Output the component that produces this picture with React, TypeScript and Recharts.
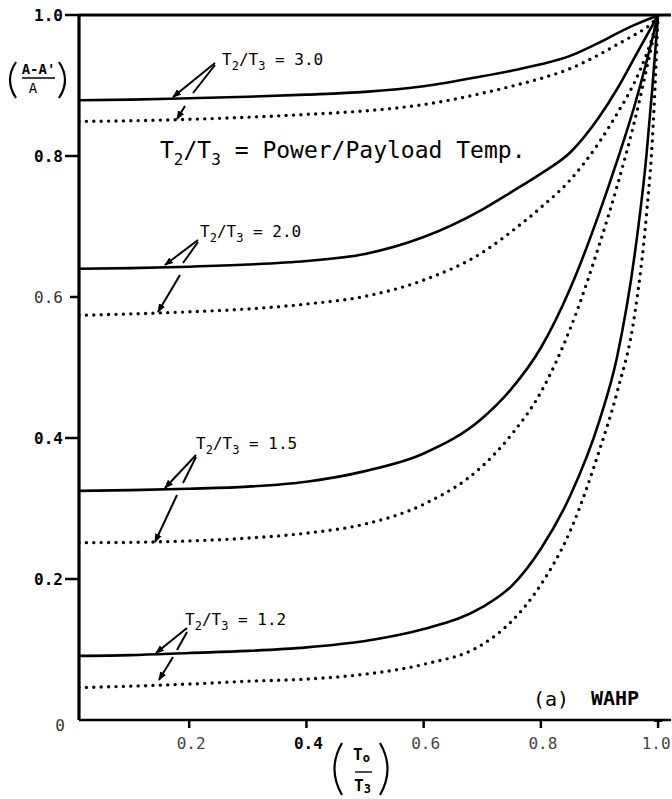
import React from 'react';
import { LineChart, Line, XAxis, YAxis, ReferenceLine } from 'recharts';

const xGrid = [0.012, 0.1, 0.2, 0.3, 0.4, 0.5, 0.6, 0.7, 0.75, 0.8, 0.85, 0.9, 0.93, 0.96, 0.98, 0.99, 1.0];

const r30Solid = [0.879, 0.880, 0.882, 0.884, 0.887, 0.891, 0.899, 0.913, 0.921, 0.930, 0.942, 0.961, 0.974, 0.986, 0.993, 0.996, 1.0];
const r30Dotted = [0.849, 0.850, 0.852, 0.855, 0.859, 0.864, 0.873, 0.889, 0.899, 0.910, 0.924, 0.944, 0.958, 0.972, 0.982, 0.989, 1.0];
const r20Solid = [0.640, 0.641, 0.643, 0.646, 0.651, 0.661, 0.685, 0.724, 0.749, 0.775, 0.805, 0.856, 0.895, 0.940, 0.970, 0.985, 1.0];
const r20Dotted = [0.574, 0.576, 0.579, 0.583, 0.590, 0.601, 0.624, 0.663, 0.693, 0.727, 0.766, 0.820, 0.860, 0.905, 0.944, 0.968, 1.0];
const r15Solid = [0.325, 0.326, 0.328, 0.331, 0.338, 0.353, 0.378, 0.428, 0.470, 0.528, 0.612, 0.720, 0.793, 0.872, 0.933, 0.966, 1.0];
const r15Dotted = [0.2515, 0.252, 0.254, 0.258, 0.265, 0.278, 0.306, 0.360, 0.405, 0.465, 0.555, 0.675, 0.757, 0.850, 0.922, 0.960, 1.0];
const r12Solid = [0.091, 0.092, 0.095, 0.098, 0.103, 0.112, 0.129, 0.160, 0.190, 0.243, 0.318, 0.425, 0.515, 0.660, 0.800, 0.895, 1.0];
const r12Dotted = [0.046, 0.048, 0.051, 0.055, 0.058, 0.065, 0.079, 0.107, 0.140, 0.192, 0.268, 0.383, 0.465, 0.575, 0.715, 0.820, 1.0];

const xTicks = [0.2, 0.4, 0.6, 0.8, 1.0];
const yTicks = [0, 0.2, 0.4, 0.6, 0.8, 1.0];
const xTickLabels = ['0.2', '0.4', '0.6', '0.8', '1.0'];
const yTickLabels = ['0', '0.2', '0.4', '0.6', '0.8', '1.0'];
const xBoldTicks = [0.4];
const yLightTicks = [0, 0.6];

const curveLabels = ['3.0', '2.0', '1.5', '1.2'];

const mk = (ys: number[]) => xGrid.map((x, i) => ({ x, y: ys[i] }));

const solidSeries = [r30Solid, r20Solid, r15Solid, r12Solid];
const dottedSeries = [r30Dotted, r20Dotted, r15Dotted, r12Dotted];

const FONT = "'DejaVu Sans Mono', monospace";

const YTick = (props: any) => {
  const { x, y, payload } = props;
  const v = payload.value;
  const idx = yTicks.indexOf(v);
  const light = yLightTicks.includes(v);
  if (v === 0) {
    return (
      <text x={x + 3} y={y + 11} textAnchor="end" fontFamily={FONT} fontSize={16} fill="#333">
        {yTickLabels[idx]}
      </text>
    );
  }
  return (
    <g>
      <line x1={x + (light ? 8 : 3)} x2={x + 17} y1={y} y2={y} stroke="#000" strokeWidth={2.5} />
      <text x={x + 1} y={y + 6} textAnchor="end" fontFamily={FONT} fontSize={16}
        fontWeight={light ? 'normal' : 'bold'} fill={light ? '#333' : '#000'}>
        {yTickLabels[idx]}
      </text>
    </g>
  );
};

const XTick = (props: any) => {
  const { x, y, payload } = props;
  const v = payload.value;
  const idx = xTicks.indexOf(v);
  const bold = xBoldTicks.includes(v);
  const dx = v === 1.0 ? -2 : 2;
  return (
    <g>
      <line x1={x} x2={x} y1={y - 10} y2={y - 2} stroke="#000" strokeWidth={2.5} />
      {v === 1.0 && <line x1={x - 4} x2={x + 4} y1={y - 9} y2={y - 9} stroke="#000" strokeWidth={2} />}
      <text x={x + dx} y={y + 19} textAnchor="middle" fontFamily={FONT} fontSize={16}
        fontWeight={bold ? 'bold' : 'normal'} fill={bold ? '#000' : '#444'}>
        {xTickLabels[idx]}
      </text>
    </g>
  );
};

const CurveLabel = ({ x, y, value }: { x: number; y: number; value: string }) => (
  <text x={x} y={y} fontFamily={FONT} fontSize={16} fill="#000" fontWeight={500}>
    T<tspan fontSize={12} dy={5}>2</tspan>
    <tspan dy={-5}>/T</tspan>
    <tspan fontSize={12} dy={5}>3</tspan>
    <tspan dy={-5}>{' = ' + value}</tspan>
  </text>
);

type Seg = [number, number, number, number];
const arrowSets: { label: [number, number]; a1: Seg; a2a: Seg; a2b: Seg }[] = [
  { label: [222, 65], a1: [215, 63, 173, 97], a2a: [215, 65, 193, 93], a2b: [185, 106, 177, 119] },
  { label: [200, 237], a1: [198, 240, 165, 265], a2a: [198, 242, 183, 263], a2b: [180, 275, 158, 312] },
  { label: [196, 449], a1: [196, 455, 165, 488], a2a: [196, 457, 183, 483], a2b: [177, 495, 155, 542] },
  { label: [185, 625], a1: [187, 628, 156, 653], a2a: [187, 632, 177, 650], a2b: [173, 657, 159, 680] },
];

const Overlay = () => (
  <svg width={672} height={799} style={{ position: 'absolute', left: 0, top: 0, pointerEvents: 'none' }}>
    <defs>
      <marker id="ah" markerWidth={9} markerHeight={8} refX={8} refY={4} orient="auto" markerUnits="userSpaceOnUse">
        <path d="M0,0.5 L9,4 L0,7.5 z" fill="#000" />
      </marker>
    </defs>
    {/* y-axis title */}
    <path d="M16,62 Q4,80 16,98" stroke="#000" strokeWidth={2.2} fill="none" />
    <path d="M59,62 Q71,80 59,98" stroke="#000" strokeWidth={2.2} fill="none" />
    <text x={38.5} y={74} textAnchor="middle" fontFamily={FONT} fontSize={14} fontWeight="bold" fill="#000">A-A'</text>
    <line x1={22} x2={55} y1={78} y2={78} stroke="#000" strokeWidth={1.6} />
    <text x={33} y={93} textAnchor="middle" fontFamily={FONT} fontSize={14} fill="#000">A</text>

    {/* x-axis title */}
    <path d="M342,743 Q327,769 342,795" stroke="#000" strokeWidth={2.2} fill="none" />
    <path d="M380,743 Q395,769 380,795" stroke="#000" strokeWidth={2.2} fill="none" />
    <text x={353} y={760} fontFamily={FONT} fontSize={16} fontWeight="bold" fill="#000">
      T<tspan fontSize={12} dy={2}>o</tspan>
    </text>
    <line x1={355} x2={372} y1={772} y2={772} stroke="#000" strokeWidth={1.4} />
    <text x={354} y={791} fontFamily={FONT} fontSize={16} fontWeight="bold" fill="#000">
      T<tspan fontSize={12} dy={2}>3</tspan>
    </text>

    {/* main annotation */}
    <text x={160} y={158} fontFamily={FONT} fontSize={23} fill="#000">
      T<tspan fontSize={16} dy={7}>2</tspan>
      <tspan dy={-7}>/T</tspan>
      <tspan fontSize={16} dy={7}>3</tspan>
      <tspan dy={-7}> = Power/Payload Temp.</tspan>
    </text>

    {arrowSets.map((s, i) => (
      <g key={i}>
        <CurveLabel x={s.label[0]} y={s.label[1]} value={curveLabels[i]} />
        <line x1={s.a1[0]} y1={s.a1[1]} x2={s.a1[2]} y2={s.a1[3]} stroke="#000" strokeWidth={2} markerEnd="url(#ah)" />
        <line x1={s.a2a[0]} y1={s.a2a[1]} x2={s.a2a[2]} y2={s.a2a[3]} stroke="#000" strokeWidth={2} />
        <line x1={s.a2b[0]} y1={s.a2b[1]} x2={s.a2b[2]} y2={s.a2b[3]} stroke="#000" strokeWidth={2} markerEnd="url(#ah)" />
      </g>
    ))}

    <text x={533} y={706} fontFamily={FONT} fontSize={20} fill="#000">(a)</text>
    <text x={591} y={705} fontFamily={FONT} fontSize={20} fontWeight="bold" fill="#000">WAHP</text>
  </svg>
);

export default function App() {
  return (
    <div style={{ position: 'absolute', left: 0, top: 0, width: 672, height: 799, background: '#fff' }}>
      <LineChart width={672} height={799} margin={{ top: 15, right: 1, bottom: 49, left: 0 }}>
        <XAxis
          dataKey="x"
          type="number"
          domain={[0.012, 1.022]}
          allowDataOverflow
          ticks={xTicks}
          tick={(p: any) => <XTick {...p} />}
          tickLine={false}
          tickSize={8}
          tickMargin={2}
          height={30}
          axisLine={{ stroke: '#000', strokeWidth: 2.6 }}
          interval={0}
        />
        <YAxis
          type="number"
          domain={[0, 1]}
          allowDataOverflow
          ticks={yTicks}
          tick={(p: any) => <YTick {...p} />}
          tickLine={false}
          tickSize={14}
          tickMargin={3}
          width={79}
          axisLine={{ stroke: '#000', strokeWidth: 3.2 }}
          interval={0}
        />
        <ReferenceLine y={1} stroke="#000" strokeWidth={3} ifOverflow="extendDomain" />
        {solidSeries.map((s, i) => (
          <Line key={'s' + i} data={mk(s)} dataKey="y" type="monotone" stroke="#000" strokeWidth={2.6}
            dot={false} activeDot={false} isAnimationActive={false} />
        ))}
        {dottedSeries.map((s, i) => (
          <Line key={'d' + i} data={mk(s)} dataKey="y" type="monotone" stroke="#000" strokeWidth={3.4}
            strokeDasharray="0 7.4" strokeLinecap="round"
            dot={false} activeDot={false} isAnimationActive={false} />
        ))}
      </LineChart>
      <Overlay />
    </div>
  );
}
